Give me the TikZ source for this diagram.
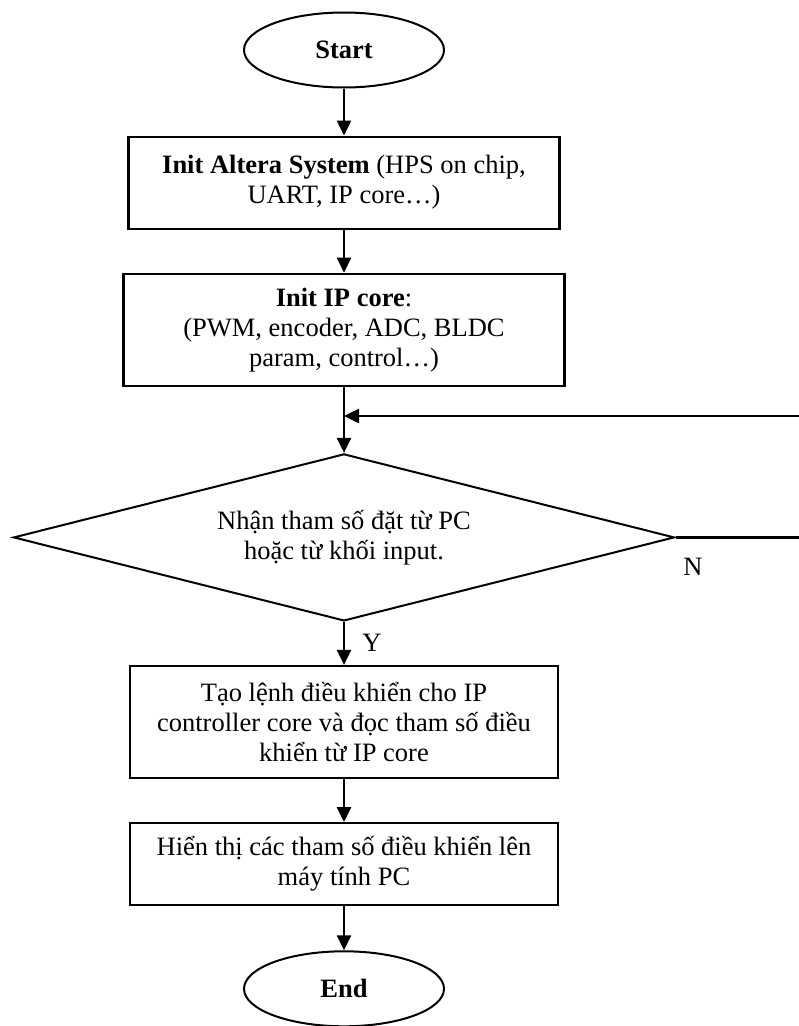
\documentclass[tikz,border=0pt]{standalone}
\usepackage{fontspec}
\setmainfont{Liberation Serif}
\usetikzlibrary{shapes.geometric, arrows.meta, positioning}
\tikzset{
   myterm/.style={draw, ellipse, line width=2pt, minimum width=200pt, minimum height=75pt, inner sep=0pt},
   mybox/.style={draw, line width=2.2pt, align=center, inner sep=0pt},
   mydec/.style={draw, diamond, aspect=3.96, line width=2pt, minimum width=661pt, minimum height=167pt, inner sep=0pt, align=center},
   myarrow/.style={line width=2.5pt, -{Triangle[length=15pt,width=14pt]}},
   myline/.style={line width=2.5pt}
}

\begin{document}
\begin{tikzpicture}[x=1pt, y=-1pt, font=\fontsize{26.5}{30}\selectfont]
      \useasboundingbox (0,0) rectangle (799,1026);
      \clip (0,0) rectangle (799,1026);
      \node[myterm] (start) at (344,50) {\textbf{Start}};
      \node[mybox, minimum width=431pt, minimum height=92pt, below=47pt of start] (init)
         {\textbf{Init Altera System} (HPS on chip,\\UART, IP core…)};
      \node[mybox, minimum width=441pt, minimum height=112pt, below=43pt of init] (core)
         {\textbf{Init IP core}:\\(PWM, encoder, ADC, BLDC\\param, control…)};
      \node[mydec, below=66pt of core] (check)
         {Nhận tham số đặt từ PC\\hoặc từ khối input.};
      \node[mybox, minimum width=428pt, minimum height=112pt, below=43pt of check] (ctrl)
         {Tạo lệnh điều khiển cho IP\\controller core và đọc tham số điều\\khiển từ IP core};
      \node[mybox, minimum width=428pt, minimum height=82pt, below=43pt of ctrl] (show)
         {Hiển thị các tham số điều khiển lên\\máy tính PC};
      \node[myterm, below=44pt of show] (end) {\textbf{End}};
      % loop back from the right edge
      \coordinate (loopin) at (799,416);
      \coordinate (join) at (core.south |- loopin);
      \coordinate (nout) at (check.east -| loopin);
      \node (nlabel) at (693,567) {N};
      \node (ylabel) at (372,643) {Y};
      \draw[myarrow] (start) -- (init);
      \draw[myarrow] (init) -- (core);
      \draw[myarrow] (core) -- (check);
      \draw[myarrow] (loopin) -- (join);
      \draw[myline] (check.east) -- (nout);
      \draw[myarrow] (check) -- (ctrl);
      \draw[myarrow] (ctrl) -- (show);
      \draw[myarrow] (show) -- (end);
\end{tikzpicture}
\end{document}
